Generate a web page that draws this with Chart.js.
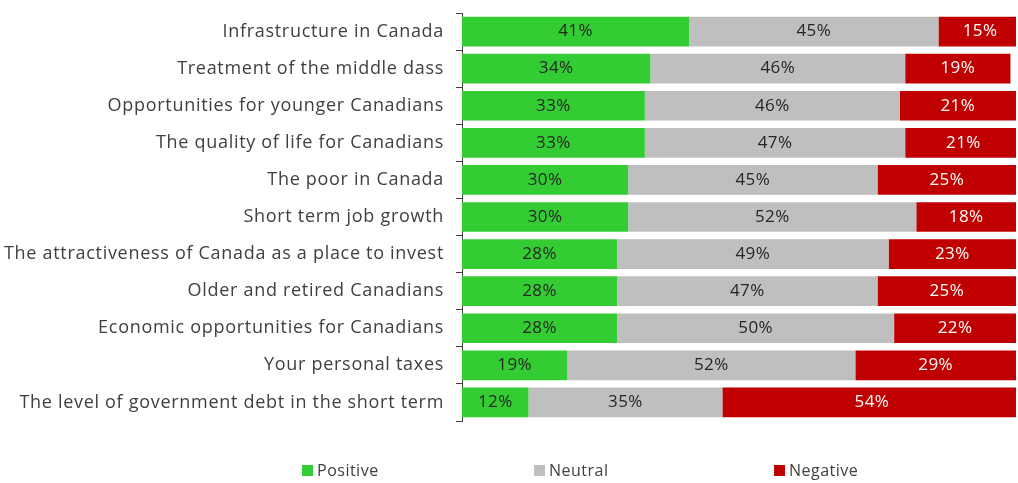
<!DOCTYPE html>
<html>
<head>
<meta charset="utf-8">
<script src="https://cdn.jsdelivr.net/npm/chart.js@4/dist/chart.umd.min.js"></script>
<style>
  body { margin: 0; background: #fff; }
  #wrap { width: 1018px; height: 483px; }
</style>
</head>
<body>
<div id="wrap"><canvas id="barChart" width="1018" height="483"></canvas></div>
<script>
var categories = [
  "Infrastructure in Canada",
  "Treatment of the middle dass",
  "Opportunities for younger Canadians",
  "The quality of life for Canadians",
  "The poor in Canada",
  "Short term job growth",
  "The attractiveness of Canada as a place to invest",
  "Older and retired Canadians",
  "Economic opportunities for Canadians",
  "Your personal taxes",
  "The level of government debt in the short term"
];
var positive = [41, 34, 33, 33, 30, 30, 28, 28, 28, 19, 12];
var neutral  = [45, 46, 46, 47, 45, 52, 49, 47, 50, 52, 35];
var negative = [15, 19, 21, 21, 25, 18, 23, 25, 22, 29, 54];

var FONT = "'Open Sans', sans-serif";

// wider letter spacing for the axis labels
var spacing = {
  id: 'spacing',
  beforeDraw: function(chart) {
    chart.ctx.letterSpacing = '0.7px';
  }
};

// labels in the middle of each segment
var segLabels = {
  id: 'segLabels',
  afterDatasetsDraw: function(chart) {
    var ctx = chart.ctx;
    ctx.save();
    ctx.font = "17px " + FONT;
    ctx.letterSpacing = '0.4px';
    ctx.textAlign = 'center';
    ctx.textBaseline = 'middle';
    chart.data.datasets.forEach(function(ds, i) {
      var meta = chart.getDatasetMeta(i);
      meta.data.forEach(function(bar, j) {
        ctx.fillStyle = ds.labelColor;
        ctx.fillText(ds.data[j] + '%', (bar.x + bar.base) / 2, bar.y);
      });
    });
    ctx.restore();
  }
};

// spread-out legend at the bottom
var bottomLegend = {
  id: 'bottomLegend',
  afterDraw: function(chart) {
    var ctx = chart.ctx;
    var xs = [302, 534, 774];
    ctx.save();
    ctx.font = "16px " + FONT;
    ctx.letterSpacing = '0.5px';
    ctx.textBaseline = 'middle';
    chart.data.datasets.forEach(function(ds, i) {
      ctx.fillStyle = ds.backgroundColor;
      ctx.fillRect(xs[i], 465, 11, 11);
      ctx.fillStyle = '#404040';
      ctx.fillText(ds.label, xs[i] + 15, 471);
    });
    ctx.restore();
  }
};

var ctxB = document.getElementById("barChart").getContext('2d');
var myBarChart = new Chart(ctxB, {
  type: 'bar',
  data: {
    labels: categories,
    datasets: [{
      label: "Positive",
      data: positive,
      backgroundColor: '#33CC33',
      labelColor: '#262626'
    },
    {
      label: "Neutral",
      data: neutral,
      backgroundColor: '#BFBFBF',
      labelColor: '#262626'
    },
    {
      label: "Negative",
      data: negative,
      backgroundColor: '#C00000',
      labelColor: '#FFFFFF'
    }]
  },
  options: {
    indexAxis: 'y',
    responsive: false,
    animation: false,
    categoryPercentage: 0.8,
    barPercentage: 1.0,
    layout: { padding: { top: 13, right: 2, bottom: 62, left: 0 } },
    plugins: {
      legend: { display: false },
      tooltip: { enabled: false }
    },
    scales: {
      x: {
        stacked: true,
        min: 0,
        max: 100,
        display: false
      },
      y: {
        stacked: true,
        afterFit: function(scale) {
          scale.width = 462;
          scale.paddingTop = 0;
          scale.paddingBottom = 0;
        },
        border: { display: true, color: '#404040', width: 1 },
        grid: {
          display: true,
          drawOnChartArea: false,
          drawTicks: true,
          tickLength: 6,
          color: '#404040',
          offset: true
        },
        ticks: {
          color: '#404040',
          font: { family: FONT, size: 18 },
          padding: 12
        }
      }
    }
  },
  plugins: [spacing, segLabels, bottomLegend]
});
</script>
</body>
</html>
